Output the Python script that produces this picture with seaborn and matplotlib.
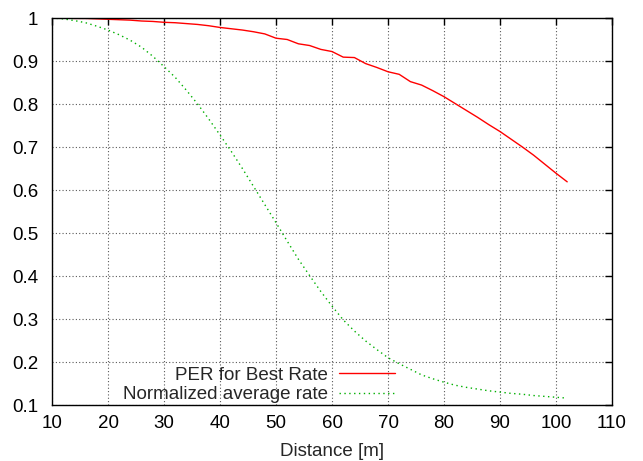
import matplotlib
matplotlib.use("Agg")
import matplotlib.pyplot as plt
import seaborn as sns
import pandas as pd

distance = [10, 12, 14, 16, 18, 20, 22, 24, 26, 28, 30, 32, 34, 36, 38, 40, 42, 44, 46, 48,
            50, 52, 54, 56, 58, 60, 62, 64, 66, 68, 70, 72, 74, 76, 78, 80, 82, 84, 86, 88,
            90, 92, 94, 96, 98, 100, 102]
per_best_rate = [1.000, 1.000, 0.999, 0.999, 0.998, 0.997, 0.996, 0.995, 0.993, 0.992,
                 0.990, 0.989, 0.987, 0.985, 0.982, 0.978, 0.975, 0.972, 0.968, 0.963,
                 0.953, 0.950, 0.940, 0.936, 0.927, 0.922, 0.909, 0.908, 0.894, 0.885,
                 0.875, 0.869, 0.852, 0.844, 0.831, 0.817, 0.801, 0.785, 0.769, 0.752,
                 0.736, 0.718, 0.700, 0.681, 0.660, 0.639, 0.619]
norm_avg_rate = [1.000, 0.998, 0.994, 0.989, 0.981, 0.972, 0.961, 0.948, 0.932, 0.911,
                 0.887, 0.862, 0.832, 0.800, 0.765, 0.728, 0.690, 0.650, 0.608, 0.566,
                 0.524, 0.481, 0.439, 0.401, 0.364, 0.330, 0.298, 0.272, 0.249, 0.229,
                 0.210, 0.196, 0.183, 0.170, 0.161, 0.153, 0.146, 0.141, 0.137, 0.133,
                 0.130, 0.127, 0.125, 0.122, 0.120, 0.118, 0.116]
series_labels = ["PER for Best Rate", "Normalized average rate"]
x_ticks = [10, 20, 30, 40, 50, 60, 70, 80, 90, 100, 110]
y_ticks = [0.1, 0.2, 0.3, 0.4, 0.5, 0.6, 0.7, 0.8, 0.9, 1.0]
y_tick_labels = ["0.1", "0.2", "0.3", "0.4", "0.5", "0.6", "0.7", "0.8", "0.9", "1"]

sns.set_theme(style="white")
plt.rcParams["font.family"] = ["Liberation Sans", "DejaVu Sans"]

FS = 13.5
df = pd.DataFrame({"Distance": distance, "per": per_best_rate, "norm": norm_avg_rate})

fig = plt.figure(figsize=(6.43, 4.61), dpi=100)
ax = fig.add_axes([52 / 643, 1 - 405 / 461, 560 / 643, 387 / 461])

sns.lineplot(data=df, x="Distance", y="per", ax=ax, color="#ff0000", lw=1.0,
             label=series_labels[0])
sns.lineplot(data=df, x="Distance", y="norm", ax=ax, color="#00b000", lw=1.0,
             linestyle=(0, (1, 2.5)), label=series_labels[1])

ax.set_xlim(10, 110)
ax.set_ylim(0.1, 1.0)
ax.set_xticks(x_ticks)
ax.set_xticklabels([str(t) for t in x_ticks])
ax.set_yticks(y_ticks)
ax.set_yticklabels(y_tick_labels)
ax.set_xlabel("Distance [m]", fontsize=FS, labelpad=8)
ax.set_ylabel("")

ax.grid(True, color="0.35", linestyle=(0, (1, 2)), lw=0.8)
for s in ax.spines.values():
    s.set_color("black")
    s.set_linewidth(1.0)
ax.tick_params(axis="both", which="major", direction="in", length=5, width=1,
               top=True, right=True, labelsize=FS, colors="black", pad=7)
ax.tick_params(axis="y", pad=10)

leg = ax.legend(loc="upper right", bbox_to_anchor=(0.613, 0.099), frameon=False,
                markerfirst=False, fontsize=FS, handlelength=3.0, handletextpad=0.6,
                labelspacing=0.12, borderpad=0, borderaxespad=0)

fig.savefig("out.png", dpi=100)
